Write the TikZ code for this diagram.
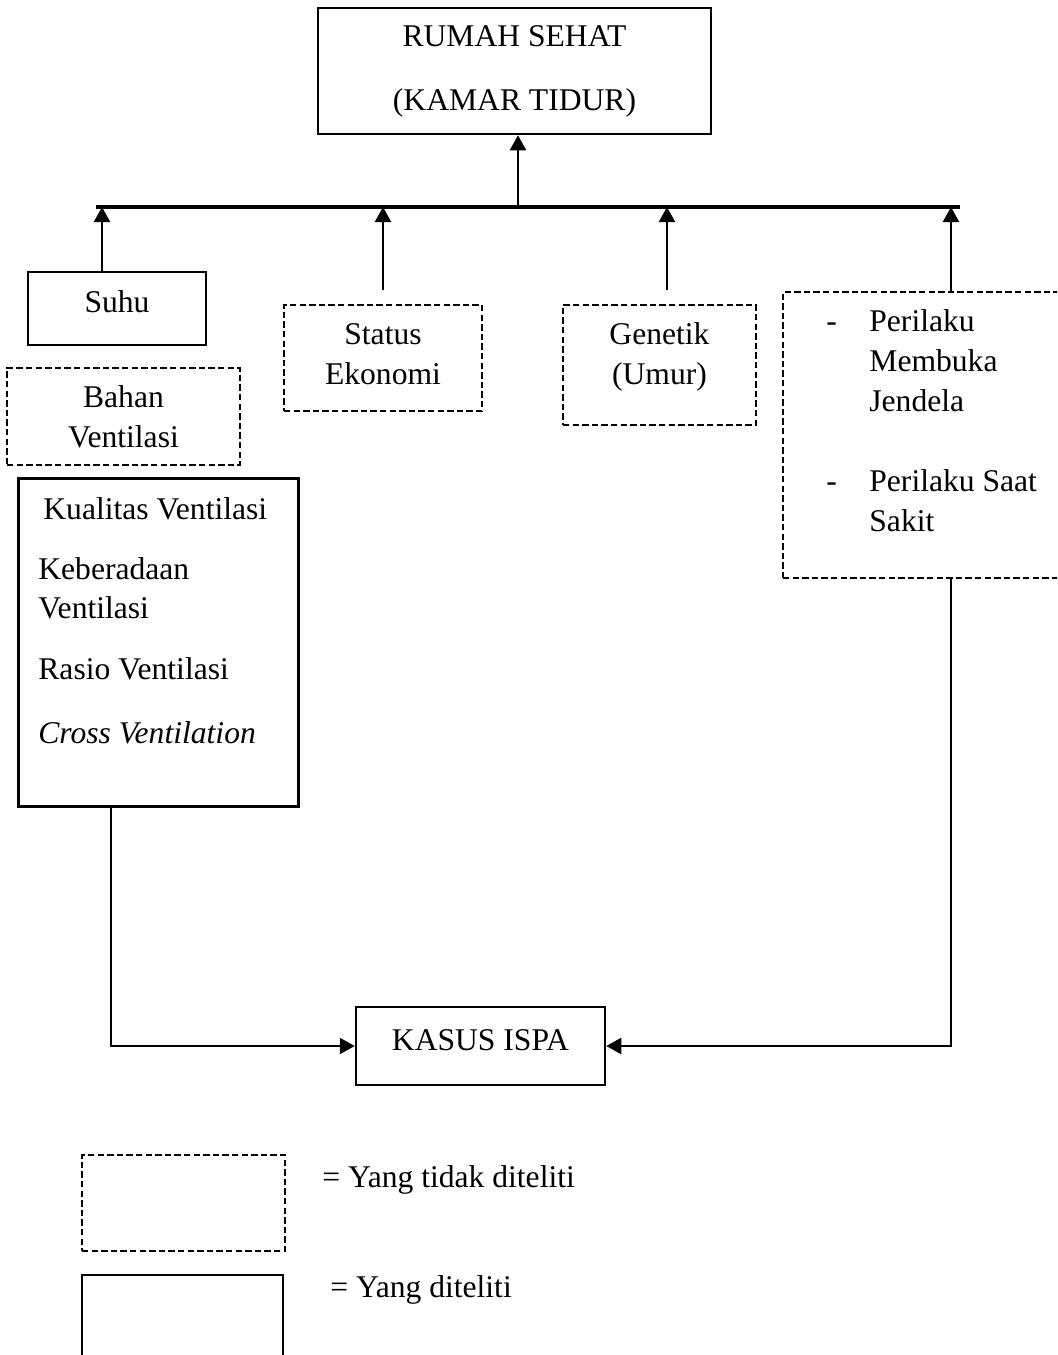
\documentclass[tikz,border=0pt]{standalone}
\usepackage{fontspec}
\setmainfont{Liberation Serif}
\usetikzlibrary{arrows.meta}

\begin{document}
\begin{tikzpicture}[x=0.5pt, y=-0.5pt, font=\fontsize{15.8}{20}\selectfont,
    solidbox/.style = {draw, rectangle, line width=1.25pt, inner sep=0pt, align=center},
    dashbox/.style = {draw, rectangle, line width=1pt, dash pattern=on 3.2pt off 1.6pt, inner sep=0pt, align=center},
    arr/.style = {-{Triangle[width=8pt,length=7.5pt]}, line width=1.1pt}]
      \useasboundingbox (0,0) rectangle (1057,1355);
      \clip (0,0) rectangle (1057,1355);

      \node[solidbox, minimum width=196.5pt, minimum height=63pt, font=\fontsize{15.8}{32}\selectfont] (rumah) at (514.5,71) {RUMAH SEHAT\\(KAMAR TIDUR)};
      \node[solidbox, minimum width=89pt, minimum height=36.5pt] (suhu) at (117,308.5) {\raisebox{3.25pt}[\height][\depth]{Suhu}};
      \node[dashbox, minimum width=116.5pt, minimum height=48.5pt] (bahan) at (123.5,416.5) {Bahan\\Ventilasi};
      \node[dashbox, minimum width=99pt, minimum height=53pt] (status) at (383,358) {\raisebox{1pt}[\height][\depth]{\begin{tabular}{@{}c@{}}Status\\Ekonomi\end{tabular}}};
      \node[dashbox, minimum width=96.5pt, minimum height=60pt] (genetik) at (659.5,365) {\raisebox{4.5pt}[\height][\depth]{\begin{tabular}{@{}c@{}}Genetik\\(Umur)\end{tabular}}};
      \node[dashbox, minimum width=146.5pt, minimum height=143pt, anchor=north west] (perilaku) at (782,291) {};
      \node[solidbox, minimum width=140pt, minimum height=164pt, anchor=north west] (kualitas) at (17,477) {};
      \node[solidbox, minimum width=124.5pt, minimum height=39pt] (kasus) at (480.5,1046) {\raisebox{3pt}[\height][\depth]{KASUS ISPA}};

      % isi kotak
      \node[anchor=north west, inner sep=0pt, align=left, font=\fontsize{15.8}{19.5}\selectfont] (kualitas text) at (38,497)
        {\hspace{2.5pt}Kualitas Ventilasi\\[10.5pt]
         Keberadaan\\Ventilasi\\[11pt]
         Rasio Ventilasi\\[12.5pt]
         \textit{Cross Ventilation}};
      \node[anchor=north west, inner sep=0pt] (perilaku text) at (826,303)
        {\begin{tabular}{@{}p{21.5pt}@{}l@{}}
         - & Perilaku\\
           & Membuka\\
           & Jendela\\[20pt]
         - & Perilaku Saat\\
           & Sakit
         \end{tabular}};

      % garis penghubung
      \coordinate (bar w) at (96,207);
      \coordinate (bar e) at (960,207);
      \coordinate (top) at (518,207);
      \coordinate (b1) at (102,207);
      \coordinate (b2) at (383,207);
      \coordinate (b3) at (667,207);
      \coordinate (b4) at (951,207);
      \coordinate (s2) at (383,290);
      \coordinate (s3) at (667,290);
      \coordinate (k) at (111,1046);

      \draw[line width=1.6pt] (bar w) to (bar e);
      \draw[arr] (top) to (top |- rumah.south);
      \draw[arr] (b1 |- suhu.north) to (b1);
      \draw[arr] (s2) to (b2);
      \draw[arr] (s3) to (b3);
      \draw[arr] (b4 |- perilaku.north) to (b4);
      \draw[arr] (kualitas.south -| k) |- (kasus.west);
      \draw[arr] (perilaku.south -| b4) |- (kasus.east);

      % keterangan
      \node[dashbox, minimum width=101.5pt, minimum height=48pt] (legend dash) at (183.5,1203) {};
      \node[solidbox, minimum width=100.5pt, minimum height=50pt] (legend solid) at (182.5,1325) {};
      \node[anchor=west, inner sep=0pt] (legend dash text) at (322,1180) {= Yang tidak diteliti};
      \node[anchor=west, inner sep=0pt] (legend solid text) at (330,1290) {= Yang diteliti};
\end{tikzpicture}
\end{document}
